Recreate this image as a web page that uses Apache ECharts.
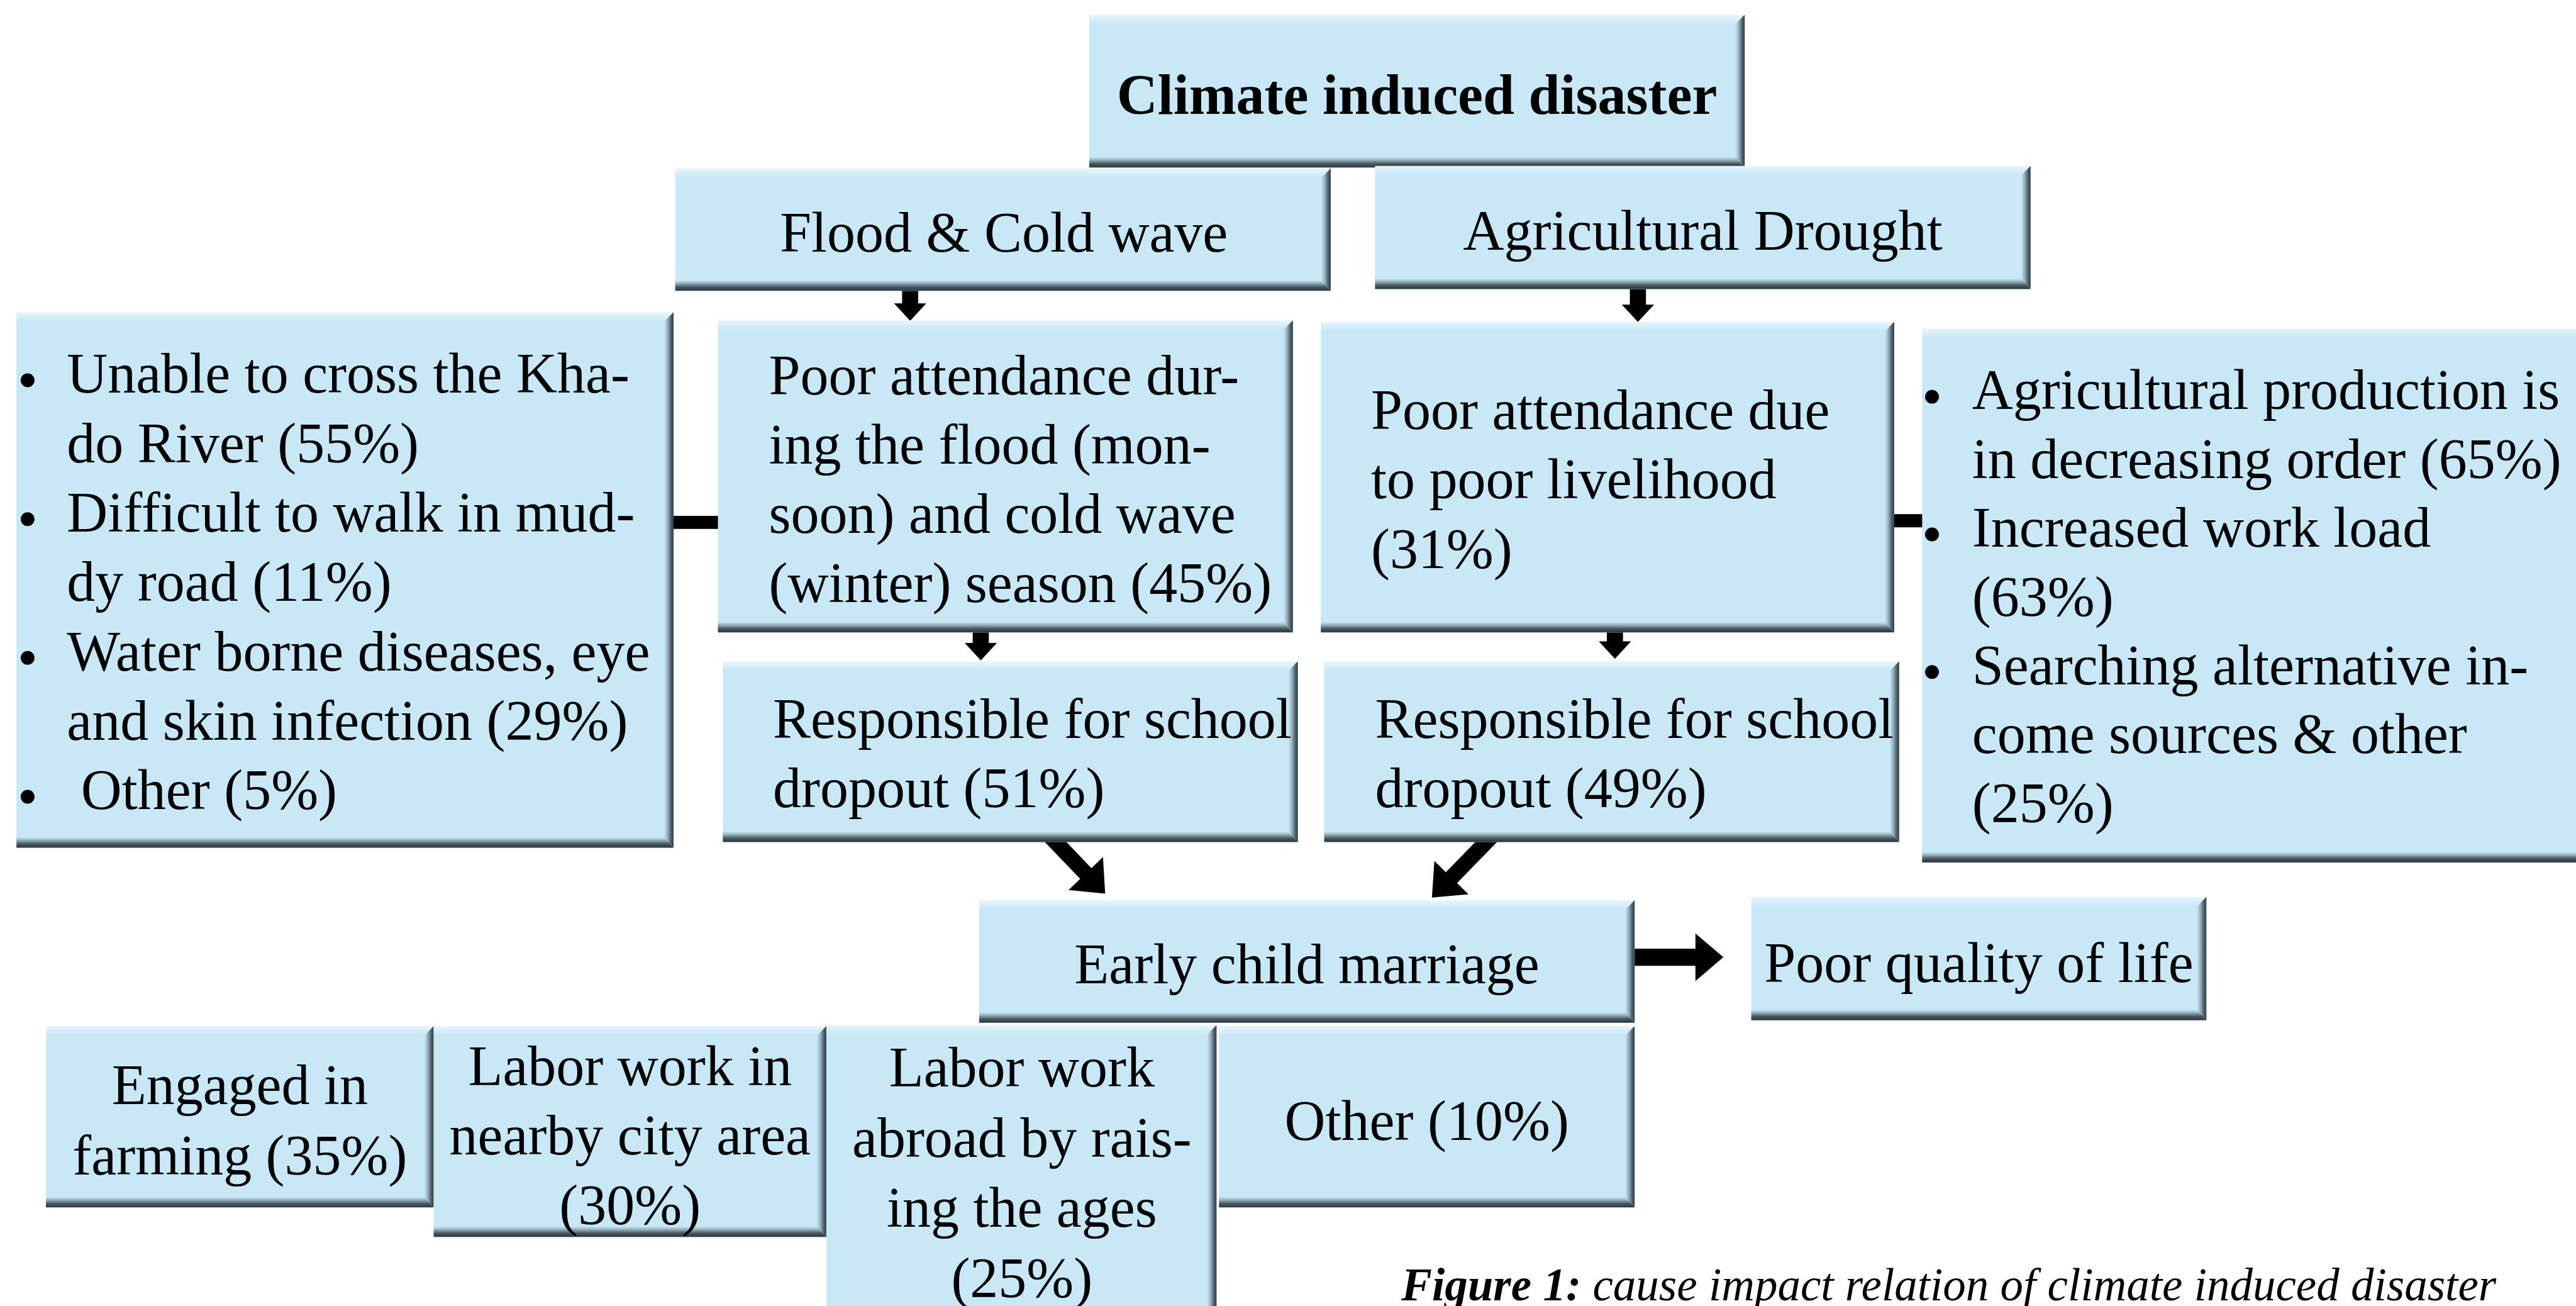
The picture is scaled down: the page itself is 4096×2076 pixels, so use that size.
<!DOCTYPE html>
<html>
<head>
<meta charset="utf-8">
<title>Climate induced disaster</title>
<script src="https://cdn.jsdelivr.net/npm/echarts@6.0.0/dist/echarts.min.js"></script>
<style>
html, body { margin: 0; padding: 0; background: #fff; }
#main { width: 4096px; height: 2076px; }
</style>
</head>
<body>
<div id="main"></div>
<script>
// box texts; shares are percent of respondents
var hazardTitle = 'Climate induced disaster';
var hazardTypes = ['Flood & Cold wave', 'Agricultural Drought'];

var floodIssueLines = [['Unable to cross the Kha-', 'do River'], ['Difficult to walk in mud-', 'dy road'], ['Water borne diseases, eye', 'and skin infection'], [' Other']];
var floodIssueShares = [55, 11, 29, 5];

var droughtIssueLines = [['Agricultural production is', 'in decreasing order'], ['Increased work load', ''], ['Searching alternative in-', 'come sources & other', '']];
var droughtIssueShares = [65, 63, 25];

var attendanceLines = [['Poor attendance dur-', 'ing the flood (mon-', 'soon) and cold wave', '(winter) season'], ['Poor attendance due', 'to poor livelihood', '']];
var attendanceShares = [45, 31];

var dropoutLines = [['Responsible for school', 'dropout'], ['Responsible for school', 'dropout']];
var dropoutShares = [51, 49];

var outcomeTexts = ['Early child marriage', 'Poor quality of life'];

var occupationLines = [['Engaged in', 'farming'], ['Labor work in', 'nearby city area', ''], ['Labor work', 'abroad by rais-', 'ing the ages', ''], ['Other']];
var occupationShares = [35, 30, 25, 10];

var captionLead = 'Figure 1: ';
var captionText = 'cause impact relation of climate induced disaster';

var FONT = 'Liberation Serif';

function shareLines(lines, share) {
    var out = lines.slice();
    var last = out[out.length - 1];
    out[out.length - 1] = (last ? last + ' ' : '') + '(' + share + '%)';
    return out.map(function (t) { return { text: t }; });
}
function plainLines(lines) {
    return lines.map(function (t) { return { text: t }; });
}
function bulletRows(groups, shares) {
    var rows = [];
    groups.forEach(function (g, i) {
        shareLines(g, shares[i]).forEach(function (r, j) {
            r.bullet = j === 0;
            rows.push(r);
        });
    });
    return rows;
}

// layout, in units of the 1568 x 795 drawing
var boxes = [
    { rect: [663, 9, 1062, 102], rows: plainLines([hazardTitle]), align: 'center', x: 862.5, y: 60.5, bold: true },
    { rect: [411, 102.5, 810, 177], rows: plainLines([hazardTypes[0]]), align: 'center', x: 611, y: 144.3 },
    { rect: [837, 101, 1236, 176], rows: plainLines([hazardTypes[1]]), align: 'center', x: 1036.5, y: 143 },
    { rect: [10, 190, 410, 516], rows: bulletRows(floodIssueLines, floodIssueShares), align: 'left', x: 40.7, bx: 16.8, y: 230, pitch: 42.25 },
    { rect: [437, 195, 787, 385], rows: shareLines(attendanceLines[0], attendanceShares[0]), align: 'left', x: 468, y: 231, pitch: 42.1 },
    { rect: [804, 196, 1153, 385], rows: shareLines(attendanceLines[1], attendanceShares[1]), align: 'left', x: 834.5, y: 252.2, pitch: 42.2 },
    { rect: [440, 402.6, 790, 512.6], rows: shareLines(dropoutLines[0], dropoutShares[0]), align: 'left', x: 470.5, y: 440, pitch: 42.4 },
    { rect: [806, 402.6, 1156, 512.6], rows: shareLines(dropoutLines[1], dropoutShares[1]), align: 'left', x: 837, y: 440, pitch: 42.4 },
    { rect: [1170, 200, 1580, 525], rows: bulletRows(droughtIssueLines, droughtIssueShares), align: 'left', x: 1200.4, bx: 1176, y: 240, pitch: 41.9 },
    { rect: [596, 548, 995, 622.6], rows: plainLines([outcomeTexts[0]]), align: 'center', x: 795.5, y: 589.4 },
    { rect: [1066, 546, 1343, 621], rows: plainLines([outcomeTexts[1]]), align: 'center', x: 1204.5, y: 588.6 },
    { rect: [28, 624.6, 264, 735], rows: shareLines(occupationLines[0], occupationShares[0]), align: 'center', x: 146, y: 663.2, pitch: 42.7 },
    { rect: [264, 624.6, 503, 753], rows: shareLines(occupationLines[1], occupationShares[1]), align: 'center', x: 383.5, y: 651.5, pitch: 42.3 },
    { rect: [503, 624, 740.5, 805], rows: shareLines(occupationLines[2], occupationShares[2]), align: 'center', x: 622, y: 652.3, pitch: 42.7 },
    { rect: [742, 624.6, 995, 735], rows: shareLines(occupationLines[3], occupationShares[3]), align: 'center', x: 868.5, y: 684.9 }
];

// from x, from y, tip x, tip y, stem width, head width, head length
var arrows = [
    [554, 177, 554, 195.3, 9.8, 19.6, 10.6],
    [997, 176, 997, 196, 9.8, 19.6, 10.6],
    [597, 385, 597, 402, 9.8, 19.6, 10.6],
    [983, 385, 983, 401, 9.8, 19.6, 10.6],
    [634.9, 504.6, 672.7, 544, 9.5, 29, 17],
    [912.4, 504.6, 871.6, 546.4, 9.5, 29, 17],
    [995, 582.7, 1049, 582.7, 10.4, 29, 17],
    [405, 318, 440, 318, 8, 0, 0],
    [1150, 317, 1172, 317, 8, 0, 0]
];

var chart = echarts.init(document.getElementById('main'));
var sx = chart.getWidth() / 1568;

var FILL = '#c8e8f7';

function renderBox(params, api) {
    var b = boxes[params.dataIndex];
    var p0 = api.coord([b.rect[0], b.rect[1]]);
    var p1 = api.coord([b.rect[2], b.rect[3]]);
    var u = api.size([1, 1])[0];
    var x0 = p0[0], y0 = p0[1], x1 = p1[0], y1 = p1[1];
    var w = x1 - x0, h = y1 - y0;
    var bb = 6.4 * u, br = 5.8 * u;
    var kids = [
        {
            type: 'rect', shape: { x: x0, y: y0, width: w, height: h },
            style: {
                fill: new echarts.graphic.LinearGradient(0, 0, 0, 1, [
                    { offset: 0, color: '#e8f6fd' },
                    { offset: Math.min(0.3, 14 / h), color: FILL },
                    { offset: 1, color: FILL }
                ])
            }
        },
        {
            type: 'polygon',
            shape: { points: [[x1 - br, y0 + br], [x1, y0], [x1, y1], [x1 - br, y1 - bb]] },
            style: {
                fill: new echarts.graphic.LinearGradient(0, 0, 1, 0, [
                    { offset: 0, color: FILL },
                    { offset: 0.35, color: '#9bb5c1' },
                    { offset: 0.75, color: '#4c5d66' },
                    { offset: 1, color: '#333f45' }
                ])
            }
        },
        {
            type: 'polygon',
            shape: { points: [[x0, y1 - bb], [x1 - br, y1 - bb], [x1, y1], [x0, y1]] },
            style: {
                fill: new echarts.graphic.LinearGradient(0, 0, 0, 1, [
                    { offset: 0, color: FILL },
                    { offset: 0.3, color: '#93adb9' },
                    { offset: 0.65, color: '#46565e' },
                    { offset: 1, color: '#2c373c' }
                ])
            }
        }
    ];
    var fs = 34.45 * u;
    var pitch = b.pitch || 42.2;
    b.rows.forEach(function (r, i) {
        var ty = api.coord([0, b.y + i * pitch])[1];
        kids.push({
            type: 'text',
            x: api.coord([b.x, 0])[0],
            y: ty,
            style: {
                text: r.text,
                fill: '#000',
                fontFamily: FONT,
                fontSize: fs,
                fontWeight: b.bold ? 'bold' : 'normal',
                align: b.align,
                verticalAlign: 'middle'
            }
        });
        if (r.bullet) {
            var c = api.coord([b.bx, b.y + i * pitch + 1.5]);
            kids.push({
                type: 'circle',
                shape: { cx: c[0], cy: c[1], r: 4.2 * u },
                style: { fill: '#000' }
            });
        }
    });
    return { type: 'group', children: kids };
}

function renderArrow(params, api) {
    var a = arrows[params.dataIndex];
    var p0 = api.coord([a[0], a[1]]);
    var p1 = api.coord([a[2], a[3]]);
    var u = api.size([1, 1])[0];
    var dx = p1[0] - p0[0], dy = p1[1] - p0[1];
    var len = Math.sqrt(dx * dx + dy * dy);
    dx /= len; dy /= len;
    var nx = -dy, ny = dx;
    var sw = a[4] * u / 2, hw = a[5] * u / 2, hl = a[6] * u;
    var pts;
    if (!hl) {
        pts = [[p0[0] + nx * sw, p0[1] + ny * sw], [p1[0] + nx * sw, p1[1] + ny * sw],
               [p1[0] - nx * sw, p1[1] - ny * sw], [p0[0] - nx * sw, p0[1] - ny * sw]];
    } else {
        var bx = p1[0] - dx * hl, by = p1[1] - dy * hl;
        pts = [
            [p0[0] + nx * sw, p0[1] + ny * sw],
            [bx + nx * sw, by + ny * sw],
            [bx + nx * hw, by + ny * hw],
            [p1[0], p1[1]],
            [bx - nx * hw, by - ny * hw],
            [bx - nx * sw, by - ny * sw],
            [p0[0] - nx * sw, p0[1] - ny * sw]
        ];
    }
    return { type: 'polygon', shape: { points: pts }, style: { fill: '#000' } };
}

var option = {
    backgroundColor: '#fff',
    animation: false,
    title: {
        text: '{b|' + captionLead + '}{i|' + captionText + '}',
        left: 853 * sx,
        top: 2008,
        padding: 0,
        textStyle: {
            lineHeight: 80,
            rich: {
                b: { fontFamily: FONT, fontSize: 73, fontStyle: 'italic', fontWeight: 'bold', color: '#000', lineHeight: 80 },
                i: { fontFamily: FONT, fontSize: 73, fontStyle: 'italic', fontWeight: 'normal', color: '#000', lineHeight: 80 }
            }
        }
    },
    grid: { left: 0, right: 0, top: 0, bottom: 0 },
    xAxis: { type: 'value', min: 0, max: 1568, show: false },
    yAxis: { type: 'value', min: 0, max: 795, inverse: true, show: false },
    series: [
        {
            type: 'custom',
            name: 'arrows',
            silent: true,
            z: 1,
            renderItem: renderArrow,
            encode: { x: [0, 2], y: [1, 3] },
            data: arrows
        },
        {
            type: 'custom',
            name: 'boxes',
            silent: true,
            z: 2,
            renderItem: renderBox,
            encode: { x: [0, 2], y: [1, 3] },
            data: boxes.map(function (b) { return b.rect; })
        }
    ]
};
chart.setOption(option);
</script>
</body>
</html>
